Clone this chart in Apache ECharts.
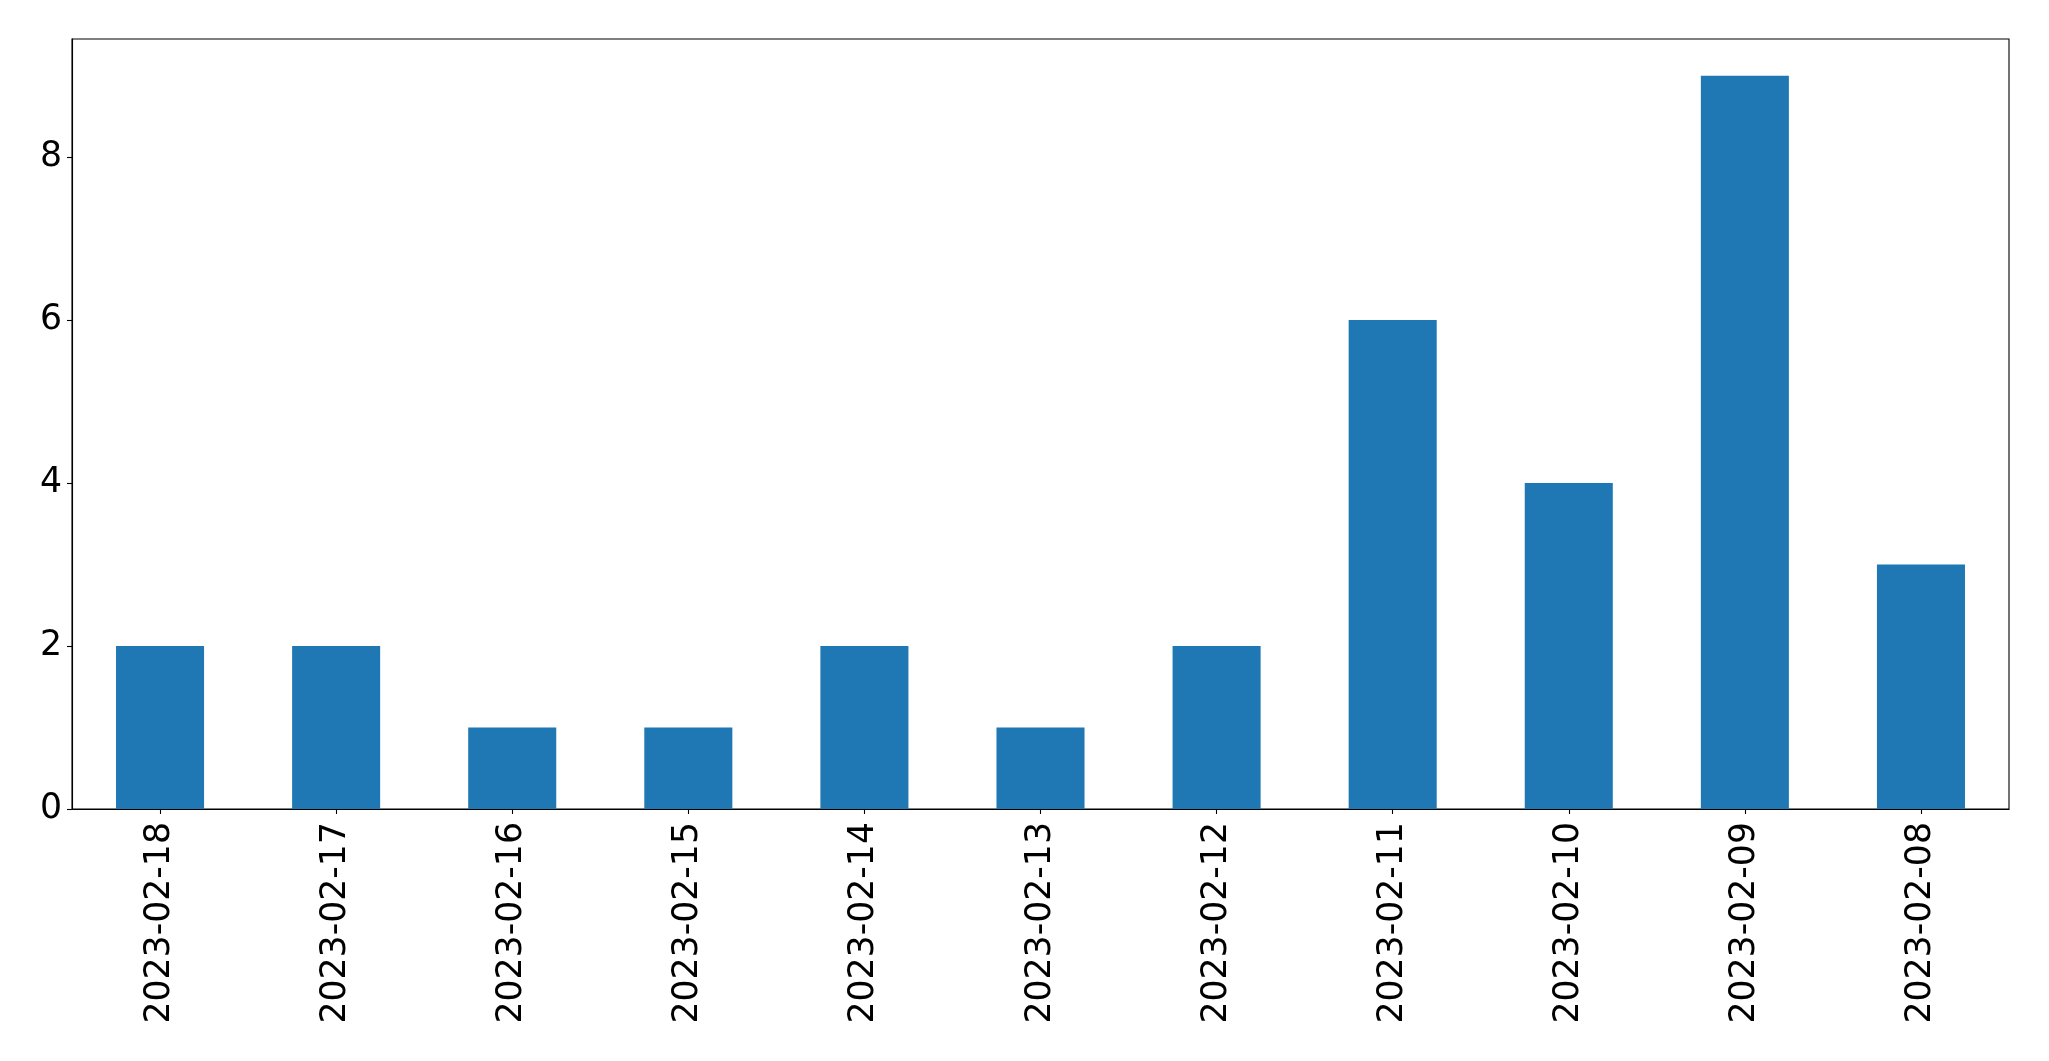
<!DOCTYPE html>
<html><head><meta charset="utf-8">
<script src="https://cdn.jsdelivr.net/npm/echarts@6/dist/echarts.min.js"></script>
<style>html,body{margin:0;padding:0;background:#fff;}#c{width:2049px;height:1061px;}</style>
</head><body><div id="c"></div>
<script>
const categories = ['2023-02-18','2023-02-17','2023-02-16','2023-02-15','2023-02-14','2023-02-13','2023-02-12','2023-02-11','2023-02-10','2023-02-09','2023-02-08'];
const values = [2,2,1,1,2,1,2,6,4,9,3];
const yTicks = [0,2,4,6,8];

const chart = echarts.init(document.getElementById('c'));
const font = 'DejaVu Sans';
chart.setOption({
  animation: false,
  grid: {left:72, right:40, top:39, bottom:252, show:true, borderColor:'#000', borderWidth:1.1, backgroundColor:'#fff'},
  xAxis: {
    type:'category', data: categories, boundaryGap:true,
    axisLine:{show:true, lineStyle:{color:'#000', width:1.1}},
    axisTick:{show:true, alignWithLabel:true, length:5, lineStyle:{color:'#000', width:1.1}},
    axisLabel:{rotate:90, fontSize:34.7, fontFamily:font, color:'#000', margin:13, interval:0},
    splitLine:{show:false}
  },
  yAxis: {
    type:'value', min:0, max:9.45,
    axisLine:{show:true, lineStyle:{color:'#000', width:1.1}},
    axisTick:{show:true, length:5, customValues:yTicks, lineStyle:{color:'#000', width:1.1}},
    axisLabel:{fontSize:34.7, fontFamily:font, color:'#000', margin:10, customValues:yTicks, padding:[5,0,0,0]},
    splitLine:{show:false}
  },
  series: [{type:'bar', data: values, barWidth:'50%', itemStyle:{color:'#1f77b4'}}]
});
</script></body></html>
